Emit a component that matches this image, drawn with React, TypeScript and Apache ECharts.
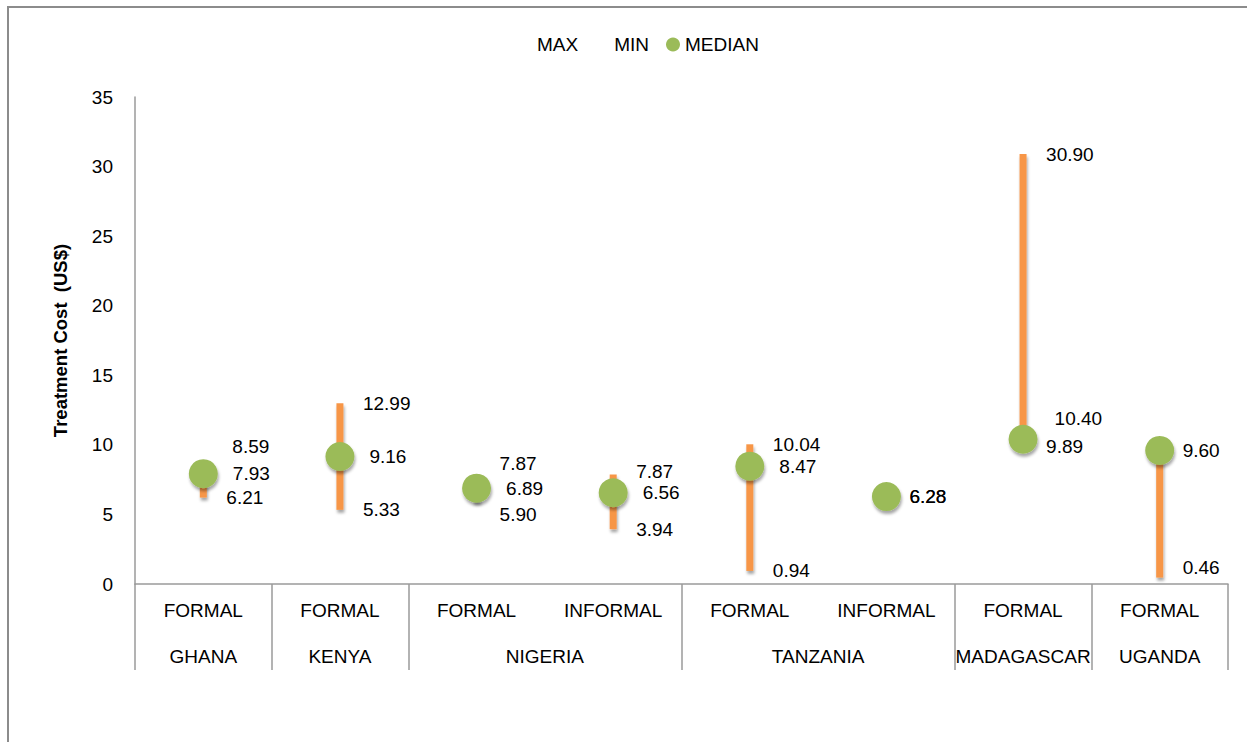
import React, { useEffect, useRef } from "react";
import * as echarts from "echarts";

// ---- data ----
const categories = ["FORMAL", "FORMAL", "FORMAL", "INFORMAL", "FORMAL", "INFORMAL", "FORMAL", "FORMAL"];
const countries = ["GHANA", "KENYA", "NIGERIA", "TANZANIA", "MADAGASCAR", "UGANDA"];
const countrySpans = [1, 1, 2, 2, 1, 1];
const maxValues = [8.59, 12.99, 7.87, 7.87, 10.04, 6.28, 30.9, 9.6];
const minValues = [6.21, 5.33, 5.9, 3.94, 0.94, 6.28, 9.89, 0.46];
const medianValues = [7.93, 9.16, 6.89, 6.56, 8.47, 6.28, 10.4, 9.6];
const yMin = 0;
const yMax = 35;
const yInterval = 5;

// label nudges (style only)
const maxLabelOffsets: Record<number, number[]> = { 0: [6, -18], 2: [0, -11], 3: [0, -3] };
const minLabelOffsets: Record<number, number[]> = { 2: [0, 13], 7: [0, -10] };
const medLabelOffsets: Record<number, number[]> = { 6: [2, -21] };

const ORANGE = "#F79646";
const GREEN = "#9BBB59";
const AXIS_GREY = "#9a9a9a";
const FONT = "'Liberation Sans', Arial, sans-serif";

export default function App() {
  const ref = useRef<HTMLDivElement>(null);

  useEffect(() => {
    if (!ref.current) return;
    const chart = echarts.init(ref.current, null, { renderer: "svg" });

    // group axis (half-category resolution)
    const halfCount = categories.length * 2 + 1;
    const groupData: string[] = new Array(halfCount).fill("");
    const boundaries: number[] = [0];
    let acc = 0;
    countrySpans.forEach((s, i) => {
      groupData[acc * 2 + s] = countries[i];
      acc += s;
      boundaries.push(acc * 2);
    });

    const labelBase = { show: true, position: "right", color: "#000", fontSize: 19, fontFamily: FONT };
    const fmt = (p: any) => Number(p.value[1]).toFixed(2);

    const maxData = maxValues.map((v, i) => ({
      value: [i, v],
      label: { offset: maxLabelOffsets[i] || [0, 0] },
    }));
    const minData = minValues.map((v, i) => ({
      value: [i, v],
      label: { offset: minLabelOffsets[i] || [0, 0] },
    }));
    const medData = medianValues.map((v, i) => ({
      value: [i, v],
      label: {
        show: !(v === maxValues[i] || v === minValues[i]),
        offset: medLabelOffsets[i] || [0, 0],
      },
    }));
    const rangeData = categories.map((_, i) => [i, minValues[i], maxValues[i]]);

    const shadow = { shadowColor: "rgba(0,0,0,0.35)", shadowBlur: 3, shadowOffsetY: 3, shadowOffsetX: 1 };

    chart.setOption({
      animation: false,
      backgroundColor: "#fff",
      textStyle: { fontFamily: FONT },
      legend: {
        left: 513,
        top: 30,
        itemWidth: 14,
        itemHeight: 14,
        itemGap: 17,
        textStyle: { fontSize: 19, color: "#000", fontFamily: FONT },
        data: [
          { name: "MAX", icon: "circle" },
          { name: "MIN", icon: "circle" },
          { name: "MEDIAN", icon: "circle" },
        ],
      },
      grid: { left: 135, right: 19, top: 97, bottom: 158, containLabel: false },
      xAxis: [
        {
          type: "category",
          data: categories,
          boundaryGap: true,
          axisLine: { show: true, lineStyle: { color: AXIS_GREY, width: 1.5 } },
          axisTick: { show: false },
          axisLabel: { interval: 0, margin: 17, fontSize: 19, color: "#000", fontFamily: FONT },
          splitLine: { show: false },
        },
        {
          type: "category",
          data: groupData,
          position: "bottom",
          boundaryGap: false,
          axisLine: { show: false },
          axisTick: {
            show: true,
            length: 86,
            interval: (idx: number) => boundaries.indexOf(idx) >= 0,
            lineStyle: { color: AXIS_GREY, width: 1.5 },
          },
          axisLabel: { interval: 0, margin: 63, fontSize: 19, color: "#000", fontFamily: FONT },
          splitLine: { show: false },
        },
      ],
      yAxis: {
        type: "value",
        min: yMin,
        max: yMax,
        interval: yInterval,
        name: "Treatment Cost  (US$)",
        nameLocation: "middle",
        nameGap: 65,
        nameTextStyle: { fontSize: 18.5, fontWeight: "bold", color: "#000", fontFamily: FONT },
        axisLine: { show: true, lineStyle: { color: AXIS_GREY, width: 1.5 } },
        axisTick: { show: false },
        axisLabel: { margin: 22, fontSize: 19, color: "#000", fontFamily: FONT },
        splitLine: { show: false },
      },
      graphic: [
        {
          type: "rect",
          silent: true,
          shape: { x: 8, y: 7, width: 1400, height: 900 },
          style: { fill: "none", stroke: "#8c8c8c", lineWidth: 2 },
          z: -10,
        },
      ],
      series: [
        {
          type: "custom",
          name: "RANGE",
          xAxisIndex: 0,
          z: 2,
          encode: { x: 0, y: [1, 2] },
          data: rangeData,
          renderItem: (params: any, api: any) => {
            const lo = api.coord([api.value(0), api.value(1)]);
            const hi = api.coord([api.value(0), api.value(2)]);
            const w = 7;
            return {
              type: "rect",
              shape: { x: lo[0] - w / 2, y: hi[1], width: w, height: lo[1] - hi[1] },
              style: { fill: ORANGE, ...shadow },
            };
          },
        },
        {
          type: "scatter",
          name: "MAX",
          xAxisIndex: 0,
          z: 5,
          symbolSize: 0,
          itemStyle: { color: "rgba(0,0,0,0)", opacity: 1 },
          label: { ...labelBase, distance: 23, formatter: fmt },
          data: maxData,
        },
        {
          type: "scatter",
          name: "MIN",
          xAxisIndex: 0,
          z: 5,
          symbolSize: 0,
          itemStyle: { color: "rgba(0,0,0,0)", opacity: 1 },
          label: { ...labelBase, distance: 23, formatter: fmt },
          data: minData,
        },
        {
          type: "scatter",
          name: "MEDIAN",
          xAxisIndex: 0,
          z: 4,
          symbol: "circle",
          symbolSize: 29,
          itemStyle: { color: GREEN, opacity: 1, ...shadow },
          label: { ...labelBase, distance: 15, formatter: fmt },
          data: medData,
        },
      ],
    });

    return () => chart.dispose();
  }, []);

  return (
    <div
      ref={ref}
      style={{ position: "fixed", left: 0, top: 0, width: 1247, height: 742, background: "#fff" }}
    />
  );
}
